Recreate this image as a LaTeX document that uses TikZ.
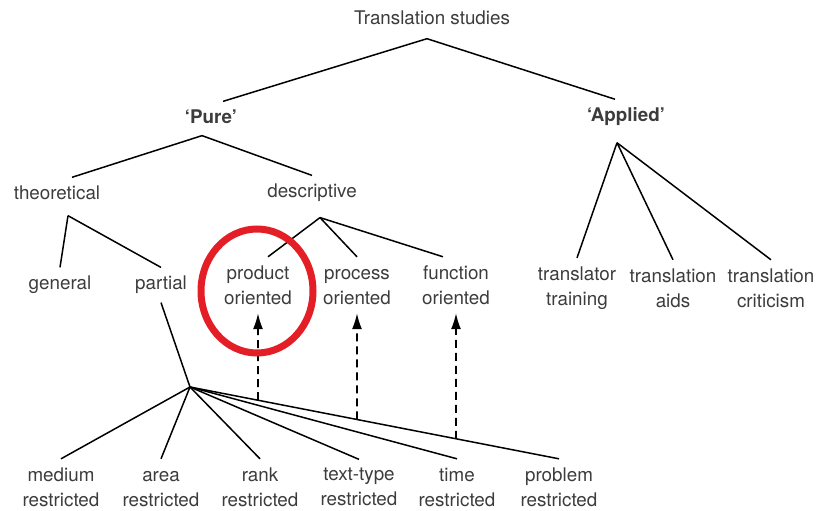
\documentclass[tikz,border=0pt]{standalone}
\usepackage{fontspec}
\setmainfont{TeX Gyre Heros}
\usetikzlibrary{arrows.meta}
\definecolor[named]{RingRed}{RGB}{228,30,38}
\definecolor[named]{LabelGrey}{RGB}{60,60,60}
\newcommand{\tall}{\vphantom{d}}
\tikzset{
  lbl/.style={font=\fontsize{18.8}{25}\selectfont, text=LabelGrey,
    align=center, inner xsep=2pt, inner ysep=8.5pt},
  branch/.style={line width=1.5pt},
  pointer/.style={line width=1.6pt, dash pattern=on 8pt off 5pt,
    -{Latex[length=16pt,width=10pt]}}
}

\begin{document}
\begin{tikzpicture}[x=1pt,y=-1pt]
      \useasboundingbox (0,0) rectangle (817,511);
      % the two branches
      \node[lbl] (ts) at (432,18) {Translation studies};
      \node[lbl] (pure) at (211,117) {\textbf{‘Pure’}};
      \node[lbl] (app) at (626,117) {\textbf{‘Applied’}};
      \node[lbl] (theo) at (57,193) {theoretical};
      \node[lbl] (desc) at (312,193) {descriptive};
      \node[lbl] (gen) at (60,285) {general};
      \node[lbl] (part) at (161,285) {partial};
      \node[lbl] (prod) at (258,285) {product\\oriented};
      \node[lbl] (proc) at (357,285) {\tall process\\oriented};
      \node[lbl] (func) at (456,285) {function\\oriented};
      \node[lbl] (train) at (577,288) {translator\\training};
      \node[lbl] (aids) at (673,288) {translation\\aids};
      \node[lbl] (crit) at (771,288) {translation\\criticism};
      % restricted theories
      \node[lbl] (med) at (61,487) {medium\\restricted};
      \node[lbl] (area) at (161,487) {\tall area\\restricted};
      \node[lbl] (rank) at (260,487) {rank\\restricted};
      \node[lbl] (ttype) at (359,487) {text-type\\restricted};
      \node[lbl] (time) at (457,487) {\tall time\\restricted};
      \node[lbl] (prob) at (559,487) {problem\\restricted};
      \coordinate (tsfork) at ([xshift=-5pt,yshift=-5pt]ts.south);
      \coordinate (purefork) at ([xshift=-9pt,yshift=-3pt]pure.south);
      \coordinate (appfork) at ([xshift=-9pt,yshift=-8pt]app.south);
      \coordinate (theofork) at ([xshift=11pt,yshift=-7pt]theo.south);
      \coordinate (descfork) at ([xshift=8pt,yshift=-7pt]desc.south);
      \coordinate (hub) at (190,387);
      \draw[branch] (tsfork) -- ([xshift=12pt]pure.north);
      \draw[branch] (tsfork) -- ([xshift=-11pt]app.north);
      \draw[branch] (purefork) -- ([xshift=15pt]theo.north);
      \draw[branch] (purefork) -- (desc.north);
      \draw[branch] (appfork) -- (train.north);
      \draw[branch] (appfork) -- (aids.north);
      \draw[branch] (appfork) -- (crit.north);
      \draw[branch] (theofork) -- (gen.north);
      \draw[branch] (theofork) -- (part.north);
      \draw[branch] (descfork) -- ([xshift=10pt]prod.north);
      \draw[branch] (descfork) -- (proc.north);
      \draw[branch] (descfork) -- ([xshift=-13pt]func.north);
      \draw[branch] (part.south) -- (hub);
      \foreach \kind in {med,area,rank,ttype,time,prob}
        \draw[branch] (hub) -- (\kind.north);
      % links up to the descriptive branches
      \foreach \kind in {prod,proc,func}
        \draw[pointer] (intersection cs: first line={(hub)--(prob.north)},
          second line={(\kind.south)--(\kind.south|-med.north)}) -- (\kind.south);
      \draw[RingRed, line width=7pt] (257,291) ellipse [x radius=56pt, y radius=62pt];
    \end{tikzpicture}
\end{document}
